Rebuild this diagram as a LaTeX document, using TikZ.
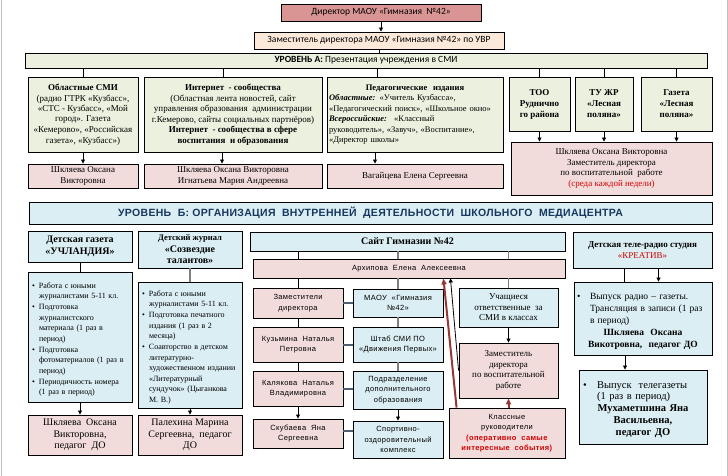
\documentclass[tikz,border=0pt]{standalone}
\usepackage{fontspec}
\setmainfont{Liberation Serif}
\newfontfamily\calfont{Carlito}
\newfontfamily\tahfont[LetterSpace=5]{Liberation Sans}
\newfontfamily\arfont[LetterSpace=3]{Liberation Sans}
\usetikzlibrary{arrows.meta}
\definecolor{rosefill}{HTML}{D99594}
\definecolor{peachfill}{HTML}{FDE9D9}
\definecolor{grnfill}{HTML}{EBF1DE}
\definecolor{pnkfill}{HTML}{F2DCDB}
\definecolor{blufill}{HTML}{DAEEF3}
\definecolor{navytxt}{HTML}{17375E}
\definecolor{redtxt}{HTML}{D00000}
\definecolor{darkred}{HTML}{953735}
\definecolor{lnkgray}{HTML}{7F7F7F}
\definecolor{slate}{HTML}{4F5F6F}
\newcommand{\fsz}[2]{\fontsize{#1}{#2}\selectfont}
\newcommand{\itm}[2][7pt]{\par\leftskip=#1\noindent\llap{\makebox[#1][l]{\textbullet}}#2\par\vspace{0.5pt}}

\begin{document}
\begin{tikzpicture}[x=1pt, y=-1pt,
    box/.style={draw=black, line width=0.9pt, inner sep=1pt, align=center, font=\fsz{9}{10.5}},
    sz/.style 2 args={minimum width=#1pt, minimum height=#2pt},
    grn/.style={box, fill=grnfill},
    pnk/.style={box, fill=pnkfill},
    blu/.style={box, fill=blufill},
    cal/.style={font=\calfont\fsz{9.5}{11}},
    tah/.style={font=\tahfont\fsz{7.5}{10.5}},
    lst/.style={align=left, inner xsep=4pt, font=\fsz{8}{10.5}},
    link/.style={draw=black, line width=0.8pt},
    arr/.style={link, -{Triangle[length=4pt, width=4pt]}},
    glink/.style={draw=lnkgray, line width=1.2pt},
    hlink/.style={draw=slate, line width=2pt},
    redarr/.style={draw=darkred, line width=2pt, -{Triangle[length=6pt, width=5pt]}}]
    \useasboundingbox (0,0) rectangle (728,476);
    \draw[gray!50, line width=1pt] (1,0) -- (1,476) (727.5,0) -- (727.5,476);

    \node[box, fill=rosefill, sz={200}{17}, cal] (dir) at (381,12.5) {Директор МАОУ «Гимназия \ №42»};
    \node[box, fill=peachfill, sz={250}{17}, cal] (zam) at (379,40.5) {Заместитель директора МАОУ «Гимназия №42» по УВР};
    \node[grn, sz={682}{15}, cal] (urA) at (366,60.5) {\textbf{УРОВЕНЬ А:} Презентация учреждения в СМИ};

    \node[grn, sz={110}{75}] (obl) at (83,114.5) {\textbf{Областные СМИ}\\(радио ГТРК «Кузбасс»,\\«СТС - Кузбасс», «Мой\\город». Газета\\«Кемерово», «Российская\\газета», «Кузбасс»)};
    \node[grn, sz={178}{75}] (inet) at (233,114.5) {\textbf{Интернет \ - сообщества}\\(Областная лента новостей, сайт\\управления образования \ администрации\\г.Кемерово, сайты социальных партнёров)\\\textbf{Интернет \ - сообщества в сфере}\\\textbf{воспитания \ и образования}};
    \node[grn, sz={176}{75}, align=left, text width=172pt, font=\fsz{8.5}{10.5}] (ped) at (415,114.5) {\hfill\textbf{Педагогические \ издания}\hfill\null\\\textbf{\textit{Областные:}} «Учитель Кузбасса»,\\«Педагогический поиск», «Школьное окно»\\\textbf{\textit{Всероссийские:}} \ «Классный\\руководитель», «Завуч», «Воспитание»,\\«Директор школы»};
    \node[grn, sz={61}{54}, font=\fsz{9}{11}\bfseries] (too) at (539.5,104) {ТОО\\Руднично\\го района};
    \node[grn, sz={58}{54}, font=\fsz{9}{11}\bfseries] (tu) at (604,104) {ТУ ЖР\\«Лесная\\поляна»};
    \node[grn, sz={71}{54}, font=\fsz{9}{11}\bfseries] (gaz) at (676.5,104) {Газета\\«Лесная\\поляна»};

    \node[pnk, sz={110}{24}] (shk1) at (83,176) {Шкляева Оксана\\Викторовна};
    \node[pnk, sz={178}{24}] (shk2) at (233,176) {Шкляева Оксана Викторовна\\Игнатьева Мария Андреевна};
    \node[pnk, sz={176}{24}] (vag) at (415,176) {Вагайцева Елена Сергеевна};
    \node[pnk, sz={201}{53}] (shk3) at (611.5,168.5) {Шкляева Оксана Викторовна\\Заместитель директора\\по воспитательной \ работе\\\textcolor{redtxt}{(среда каждой недели)}};

    \node[blu, sz={683}{22}, font=\arfont\fsz{10.5}{12}\bfseries, text=navytxt] (urB) at (370.5,213) {УРОВЕНЬ \ Б: ОРГАНИЗАЦИЯ \ ВНУТРЕННЕЙ \ ДЕЯТЕЛЬНОСТИ \ ШКОЛЬНОГО \ МЕДИАЦЕНТРА};

    \node[blu, sz={104}{31}, font=\fsz{10}{11.5}\bfseries] (uch) at (80,246.5) {Детская газета\\«УЧЛАНДИЯ»};
    \node[blu, sz={104}{130}, lst, text width=96pt] (uchlist) at (80,337) {\itm{Работа с юными\\журналистами 5-11 кл.}\itm{Подготовка\\журналистского\\материала (1 раз в\\период)}\itm{Подготовка\\фотоматериалов (1 раз в\\период)}\itm{Периодичность номера\\(1 раз в период)}};
    \node[pnk, sz={104}{40}, font=\fsz{10}{11.5}] (uchp) at (80,435) {Шкляева \ Оксана\\Викторовна,\\педагог \ ДО};
    \node[blu, sz={104}{37}, font=\fsz{10}{11.5}\bfseries] (soz) at (190,249.5) {{\fsz{8.5}{10}Детский журнал}\\«Созвездие\\талантов»};
    \node[blu, sz={104}{126}, lst, text width=96pt] (sozlist) at (190,345) {\itm{Работа с юными\\журналистами 5-11 кл.}\itm{Подготовка печатного\\издания (1 раз в 2\\месяца)}\itm{Соавторство в детском\\литературно-\\художественном издании\\«Литературный\\сундучок» (Цыганкова\\М. В.)}};
    \node[pnk, sz={104}{40}, font=\fsz{10}{11.5}] (sozp) at (190,435) {Палехина Марина\\Сергеевна, \ педагог\\ДО};

    \node[blu, sz={315}{19}, font=\fsz{10}{12}\bfseries] (sait) at (407.5,241.5) {Сайт Гимназии №42};
    \node[pnk, sz={312}{19}, tah] (arh) at (409,268.5) {Архипова \ Елена \ Алексеевна};
    \node[pnk, sz={90}{30}, tah] (zd) at (298,303) {Заместители\\директора};
    \node[pnk, sz={90}{35}, tah] (kuz) at (298,344.5) {Кузьмина \ Наталья\\Петровна};
    \node[pnk, sz={90}{35}, tah] (kal) at (298,388.5) {Калякова \ Наталья\\Владимировна};
    \node[pnk, sz={90}{29}, tah] (sku) at (298,433.5) {Скубаева \ Яна\\Сергеевна};
    \node[blu, sz={90}{28}, tah] (maou) at (398,303) {МАОУ \ «Гимназия\\№42»};
    \node[blu, sz={90}{35}, tah] (shtab) at (398,344.5) {Штаб СМИ ПО\\«Движения Первых»};
    \node[blu, sz={90}{38}, tah] (dop) at (398,390) {Подразделение\\дополнительного\\образования};
    \node[blu, sz={90}{37}, tah] (sport) at (398,439.5) {Спортивно-\\оздоровительный\\комплекс};
    \node[blu, sz={99}{39}] (ucha) at (508.5,307.5) {Учащиеся\\ответственные \ за\\СМИ в классах};
    \node[pnk, sz={99}{55}] (zvr) at (508.5,370.5) {Заместитель\\директора\\по воспитательной\\работе};
    \node[pnk, sz={116}{50}, tah] (kl) at (507,433) {Классные\\руководители\\\textcolor{redtxt}{\textbf{(оперативно \ самые}}\\\textcolor{redtxt}{\textbf{интересные \ события)}}};

    \node[blu, sz={139}{36}] (kre) at (642.5,250) {\textbf{Детская теле-радио студия}\\\textcolor{redtxt}{«КРЕАТИВ»}};
    \node[blu, sz={138}{73}, align=left, text width=132pt, inner xsep=3pt, font=\fsz{9.5}{12}] (radio) at (643,318.5) {\itm[13pt]{Выпуск радио – газеты.\\Трансляция в записи (1 раз\\в период)}{\centering\textbf{Шкляева \ Оксана\\Викотровна, \ педагог ДО}\par}};
    \node[blu, sz={128}{74}, align=left, text width=120pt, inner xsep=4pt, font=\fsz{10.5}{11.7}] (tele) at (643,407) {\itm[14pt]{Выпуск \ телегазеты\\(1 раз в период)}{\centering\textbf{Мухаметшина Яна\\Васильевна,\\педагог ДО}\par}};

    \coordinate (inetN) at ([xshift=-10pt]inet.north);
    \coordinate (inetS) at ([xshift=-11pt]inet.south);
    \coordinate (pedN) at ([xshift=-38pt]ped.north);
    \coordinate (pedS) at ([xshift=-40pt]ped.south);
    \coordinate (kreL) at ([xshift=-18pt]kre.south);
    \coordinate (kreR) at ([xshift=16pt]kre.south);
    \coordinate (radL) at ([xshift=-18pt]radio.south);
    \coordinate (klA) at ([xshift=8pt]kl.north west);
    \coordinate (arhA) at ([xshift=-122pt]arh.south east);
    \coordinate (arhB) at ([xshift=-115pt]arh.south east);

    \draw[arr] (dir.south) -- (dir.south |- zam.north);
    \draw[link] (zam.south) -- (zam.south |- urA.north);
    \draw[link] (urA.south -| obl) -- (obl.north);
    \draw[link] (urA.south -| inetN) -- (inetN);
    \draw[link] (urA.south -| pedN) -- (pedN);
    \draw[link] (urA.south -| too) -- (too.north);
    \draw[link] (urA.south -| tu) -- (tu.north);
    \draw[link] (urA.south -| gaz) -- (gaz.north);
    \draw[arr] (obl.south) -- (shk1.north);
    \draw[arr] (inetS) -- (inetS |- shk2.north);
    \draw[arr] (pedS) -- (pedS |- vag.north);
    \draw[arr] (too.south) -- (too.south |- shk3.north);
    \draw[arr] (tu.south) -- (tu.south |- shk3.north);
    \draw[arr] (gaz.south) -- (gaz.south |- shk3.north);

    \draw[link] (uch.south) -- (uchlist.north);
    \draw[arr] (uchlist.south) -- (uchp.north);
    \draw[glink] (soz.south) -- (sozlist.north);
    \draw[arr] (sozlist.south) -- (sozp.north);

    \draw[link] (sait.south -| zd) -- (arh.north -| zd);
    \draw[glink] (sait.south -| maou) -- (arh.north -| maou);
    \draw[glink] (sait.south -| ucha) -- (arh.north -| ucha);
    \draw[link] (arh.south -| zd) -- (zd.north);
    \draw[link] (zd.south) -- (kuz.north);
    \draw[link] (kuz.south) -- (kal.north);
    \draw[arr] (kal.south) -- (sku.north);
    \draw[glink] (arh.south -| maou) -- (maou.north);
    \draw[glink] (maou.south) -- (shtab.north);
    \draw[glink] (shtab.south) -- (dop.north);
    \draw[arr] (dop.south) -- (sport.north);
    \draw[hlink] (zd.east) -- (maou.west);
    \draw[hlink] (kuz.east) -- (shtab.west);
    \draw[hlink] (kal.east) -- (kal.east -| dop.west);
    \draw[hlink] ([yshift=3pt]sku.east) -- ([yshift=3pt]sku.east -| sport.west);
    \draw[glink] (arh.south -| ucha) -- (ucha.north);
    \draw[arr] (ucha.south) -- (zvr.north);
    \draw[redarr] (kl.north -| zvr) -- (zvr.south);
    \draw[redarr] (klA) -- (arhA);
    \draw[arr] (zvr.west) -- (arhB);

    \draw[link] (kreL) -- (kreL |- radio.north);
    \draw[arr] (kreR) -- (kreR |- radio.north);
    \draw[arr] (radL) -- (radL |- tele.north);
\end{tikzpicture}
\end{document}
